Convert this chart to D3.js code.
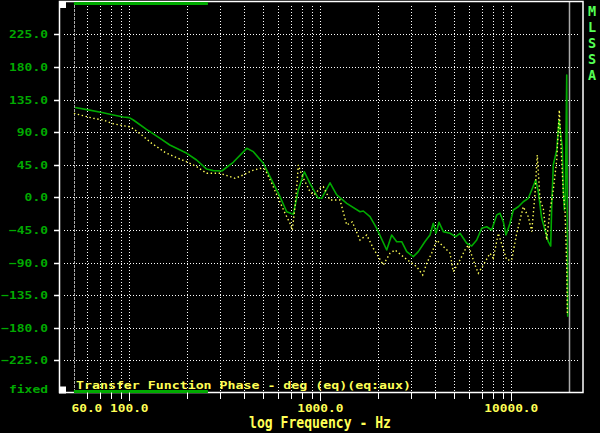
<!DOCTYPE html>
<html><head><meta charset="utf-8">
<script src="https://cdn.jsdelivr.net/npm/d3@7/dist/d3.min.js"></script>
<style>html,body{margin:0;padding:0;background:#000}svg{display:block}</style>
</head><body>
<svg id="c" width="600" height="433"></svg>
<script>
// ---- data ----
const yTicks = [225, 180, 135, 90, 45, 0, -45, -90, -135, -180, -225];
const xLabelTicks = [60, 100, 1000, 10000];
const xGridTicks = [60,70,80,90,100,200,300,400,500,600,700,800,900,1000,
                    2000,3000,4000,5000,6000,7000,8000,9000,10000];
const startFreq = 51.3;     // grey dashed marker
const endFreq = 20000;      // grey solid marker
const barFreqs = [51.3, 258];

const greenFreq = [52,60,73,82.5,93,100,105,123,145,163,200,225,254,275,305,350,412,446,503,545,
  615,667,722,767,825,883,976,1017,1124,1219,1375,1614,1679,1820,1974,2227,2364,2512,2668,2835,
  3069,3260,3534,3753,3904,4034,4183,4406,4776,5120,5388,5842,6204,6591,6998,7433,7895,8386,8727,
  9082,9382,9845,10245,10880,11556,12274,12790,13420,13850,14427,15010,15620,16080,16275,16595,
  17290,17775,18210,18495,18720,18950,19180,19510,19745];
const greenPhase = [124,121,116.7,113.6,110.8,110,106.7,93.8,81.4,72.2,60.7,51.5,39,36.8,36.3,48.3,67.6,63,47,28.4,
  0.8,-19.9,-23.5,10,35.3,19.3,-1.4,-1.4,20,3.2,-8.3,-19.9,-18.9,-26.8,-42.8,-72.7,-52,-61.3,-61.3,-75,
  -82,-75,-61,-52,-35.9,-49.7,-34.5,-47.4,-49.7,-54.4,-49.7,-63.5,-67.2,-59,-42.8,-40.6,-45.1,-24.4,-22,
  -33.7,-52,-35.9,-17.5,-13,-6.1,-1.4,10,23.9,7.7,-29,-45,-61.3,-67.2,-13,45,
  65,106.7,83.6,69.8,10,-17.5,0.8,168.8,-164.8];

const yellowFreq = [51.3,57.4,64.8,73.1,80.9,93,100.8,107.1,116.1,131,153.8,177.1,199.8,225.4,254.2,286.8,298.5,
  357.6,395.3,437.3,483.4,513.4,556.7,602.8,653.6,694,713.6,737,758,767,799,849,883,927,996,1037,1124,1268,
  1375,1470,1614,1750,1895,2137,2317,2461,2777,3197,3437,3607,3831,4068,4406,4776,4970,5388,5723,5956,6455,
  6719,7136,7736,8051,8551,9461,10048,10674,11556,12274,12790,13310,13682,14136,14707,15322,15944,16595,
  17290,17841,18357,18720,19110,19510,19650];
const yellowPhase = [115.9,112.6,109,106.7,102,98.8,97.4,92.9,86,74.5,62,54.6,49,42.2,33.1,33.1,33.1,
  26.2,30.8,36.7,40,38.6,19.3,-1.4,-22,-35.9,-45.1,-13,23.9,44.6,30.8,17,7.7,3.2,12.4,14.6,-3.7,-3.7,
  -38.2,-34,-59,-52,-70.4,-93.4,-77.3,-72.7,-84,-95.8,-107.2,-91,-77,-59,-68,-77,-102.7,-86.5,-72.7,-66,-93.4,
  -104.9,-93.4,-77.3,-84,-49.7,-86.5,-86.5,-49.7,-13,-26.8,-47.4,5.5,58.4,-3.7,-15.2,-59,-17.5,10,
  51.5,120.5,51.5,5.5,-17.5,-95.8,-160];

const titleText = "Transfer Function Phase - deg (eq)(eq:aux)";
const xAxisTitle = "log Frequency - Hz";
const sideLabel = ["M","L","S","S","A"];

// ---- drawing ----
const svg = d3.select("#c");
const W = 600, H = 433;
const L = 59.5, R = 583, T = 1.5, B = 392.5;
const GREEN = "#00aa00", LGREEN = "#55ff55", YEL = "#ffff55", WHITE = "#ffffff", GREY = "#aaaaaa";
const FONT = "'DejaVu Sans Mono', 'Liberation Mono', monospace";

svg.append("rect").attr("width", W).attr("height", H).attr("fill", "#000");

const x = d3.scaleLog().domain([100, 10000]).range([129.3, 511.3]);
const y = d3.scaleLinear().domain([-270, 270]).range([392.9, 1.7]);
const px = v => Math.round(x(v)) + 0.5;
const py = v => Math.round(y(v)) + 0.5;

// grid
const grid = svg.append("g").attr("stroke", WHITE).attr("stroke-width", 1).attr("stroke-dasharray", "1 2");
grid.selectAll("line.h").data(yTicks).join("line")
  .attr("x1", 64).attr("x2", 578).attr("y1", d => py(d)).attr("y2", d => py(d));
grid.selectAll("line.v").data(xGridTicks).join("line")
  .attr("x1", d => px(d)).attr("x2", d => px(d)).attr("y1", 6).attr("y2", B);

// grey markers
svg.append("line").attr("x1", px(startFreq)).attr("x2", px(startFreq)).attr("y1", 5).attr("y2", B)
  .attr("stroke", GREY).attr("stroke-width", 1).attr("stroke-dasharray", "3 1");
svg.append("line").attr("x1", px(endFreq)).attr("x2", px(endFreq)).attr("y1", T).attr("y2", B)
  .attr("stroke", GREY).attr("stroke-width", 1.5);

// traces
const line = d3.line().x(d => x(d[0])).y(d => y(d[1]));
const gData = greenFreq.map((f, i) => [f, greenPhase[i]]);
const yData = yellowFreq.map((f, i) => [f, yellowPhase[i]]);
svg.append("path").attr("d", line(gData)).attr("fill", "none")
  .attr("stroke", GREEN).attr("stroke-width", 1.6).attr("stroke-linejoin", "round");
svg.append("path").attr("d", line(yData)).attr("fill", "none")
  .attr("stroke", YEL).attr("stroke-width", 1.4).attr("stroke-dasharray", "1.4 2.6");

// frame
const frame = svg.append("g").attr("stroke", WHITE).attr("stroke-width", 1.5).attr("fill", "none");
frame.append("rect").attr("x", L).attr("y", T).attr("width", R - L).attr("height", B - T);

// green bars and white squares
svg.append("rect").attr("x", x(barFreqs[0])).attr("y", 2).attr("width", x(barFreqs[1]) - x(barFreqs[0])).attr("height", 3).attr("fill", GREEN);
svg.append("rect").attr("x", x(barFreqs[0])).attr("y", 390).attr("width", x(barFreqs[1]) - x(barFreqs[0])).attr("height", 3).attr("fill", GREEN);
svg.append("rect").attr("x", 59).attr("y", 1).attr("width", 7).attr("height", 7).attr("fill", WHITE);
svg.append("rect").attr("x", 59).attr("y", 386.5).attr("width", 7).attr("height", 7).attr("fill", WHITE);

// y ticks & labels
svg.append("g").attr("stroke", WHITE).attr("stroke-width", 1.5).selectAll("line").data(yTicks).join("line")
  .attr("x1", 54).attr("x2", L).attr("y1", d => py(d)).attr("y2", d => py(d));
svg.append("g").selectAll("text").data(yTicks).join("text")
  .attr("x", 48).attr("y", d => y(d) + 4).attr("text-anchor", "end")
  .attr("fill", GREEN).attr("font-family", FONT).attr("font-weight", "bold").attr("font-size", 11)
  .attr("textLength", d => d3.format(".1f")(d).length * 7.8).attr("lengthAdjust", "spacingAndGlyphs")
  .text(d => d3.format(".1f")(d));
svg.append("text").attr("x", 48).attr("y", 393).attr("text-anchor", "end")
  .attr("fill", GREEN).attr("font-family", FONT).attr("font-weight", "bold").attr("font-size", 11)
  .attr("textLength", 39).attr("lengthAdjust", "spacingAndGlyphs").text("fixed");

// x ticks & labels
svg.append("g").attr("stroke", WHITE).attr("stroke-width", 1).selectAll("line").data(xGridTicks).join("line")
  .attr("x1", d => px(d)).attr("x2", d => px(d)).attr("y1", B).attr("y2", d => xLabelTicks.includes(d) && d !== 60 ? 401 : 399);
svg.append("g").selectAll("text").data(xLabelTicks).join("text")
  .attr("x", d => x(d)).attr("y", 412).attr("text-anchor", "middle")
  .attr("fill", YEL).attr("font-family", FONT).attr("font-weight", "bold").attr("font-size", 11)
  .attr("textLength", d => d3.format(".1f")(d).length * 7.7).attr("lengthAdjust", "spacingAndGlyphs")
  .text(d => d3.format(".1f")(d));

// titles
svg.append("text").attr("x", 76).attr("y", 389).attr("fill", YEL).attr("font-family", FONT)
  .attr("font-weight", "bold").attr("font-size", 11)
  .attr("textLength", 335).attr("lengthAdjust", "spacingAndGlyphs").text(titleText);
svg.append("text").attr("x", 249).attr("y", 428).attr("fill", YEL).attr("font-family", FONT)
  .attr("font-size", 15).attr("font-weight", "bold")
  .attr("textLength", 142).attr("lengthAdjust", "spacingAndGlyphs").text(xAxisTitle);

// side label
svg.append("g").selectAll("text").data(sideLabel).join("text")
  .attr("x", 592).attr("y", (d, i) => 16 + i * 16).attr("text-anchor", "middle")
  .attr("fill", LGREEN).attr("font-family", FONT).attr("font-weight", "bold").attr("font-size", 13.5)
  .text(d => d);
</script>
</body></html>
